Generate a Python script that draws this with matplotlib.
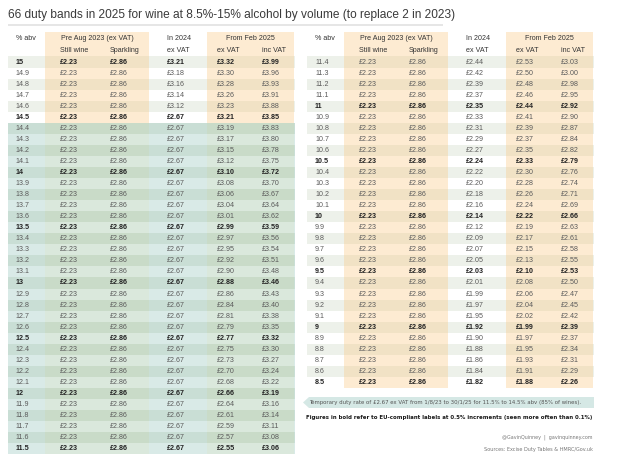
import matplotlib
matplotlib.use("Agg")
import matplotlib.pyplot as plt
from matplotlib import font_manager
from matplotlib.font_manager import FontProperties
from matplotlib.patches import Rectangle, Polygon

# % abv bands, left table then right table
abv_left = ["15", "14.9", "14.8", "14.7", "14.6", "14.5", "14.4", "14.3", "14.2", "14.1",
            "14", "13.9", "13.8", "13.7", "13.6", "13.5", "13.4", "13.3", "13.2", "13.1",
            "13", "12.9", "12.8", "12.7", "12.6", "12.5", "12.4", "12.3", "12.2", "12.1",
            "12", "11.9", "11.8", "11.7", "11.6", "11.5"]
abv_right = ["11.4", "11.3", "11.2", "11.1", "11", "10.9", "10.8", "10.7", "10.6", "10.5",
             "10.4", "10.3", "10.2", "10.1", "10", "9.9", "9.8", "9.7", "9.6", "9.5",
             "9.4", "9.3", "9.2", "9.1", "9", "8.9", "8.8", "8.7", "8.6", "8.5"]

# pre Aug 2023 rates were flat for every band
still_left = [2.23] * len(abv_left)
still_right = [2.23] * len(abv_right)
sparkling_left = [2.86] * len(abv_left)
sparkling_right = [2.86] * len(abv_right)

in2024_left = [3.21, 3.18, 3.16, 3.14, 3.12, 2.67, 2.67, 2.67, 2.67, 2.67,
               2.67, 2.67, 2.67, 2.67, 2.67, 2.67, 2.67, 2.67, 2.67, 2.67,
               2.67, 2.67, 2.67, 2.67, 2.67, 2.67, 2.67, 2.67, 2.67, 2.67,
               2.67, 2.67, 2.67, 2.67, 2.67, 2.67]
in2024_right = [2.44, 2.42, 2.39, 2.37, 2.35, 2.33, 2.31, 2.29, 2.27, 2.24,
                2.22, 2.20, 2.18, 2.16, 2.14, 2.12, 2.09, 2.07, 2.05, 2.03,
                2.01, 1.99, 1.97, 1.95, 1.92, 1.90, 1.88, 1.86, 1.84, 1.82]

feb_ex_left = [3.32, 3.30, 3.28, 3.26, 3.23, 3.21, 3.19, 3.17, 3.15, 3.12,
               3.10, 3.08, 3.06, 3.04, 3.01, 2.99, 2.97, 2.95, 2.92, 2.90,
               2.88, 2.86, 2.84, 2.81, 2.79, 2.77, 2.75, 2.73, 2.70, 2.68,
               2.66, 2.64, 2.61, 2.59, 2.57, 2.55]
feb_ex_right = [2.53, 2.50, 2.48, 2.46, 2.44, 2.41, 2.39, 2.37, 2.35, 2.33,
                2.30, 2.28, 2.26, 2.24, 2.22, 2.19, 2.17, 2.15, 2.13, 2.10,
                2.08, 2.06, 2.04, 2.02, 1.99, 1.97, 1.95, 1.93, 1.91, 1.88]

feb_inc_left = [3.99, 3.96, 3.93, 3.91, 3.88, 3.85, 3.83, 3.80, 3.78, 3.75,
                3.72, 3.70, 3.67, 3.64, 3.62, 3.59, 3.56, 3.54, 3.51, 3.48,
                3.46, 3.43, 3.40, 3.38, 3.35, 3.32, 3.30, 3.27, 3.24, 3.22,
                3.19, 3.16, 3.14, 3.11, 3.08, 3.06]
feb_inc_right = [3.03, 3.00, 2.98, 2.95, 2.92, 2.90, 2.87, 2.84, 2.82, 2.79,
                 2.76, 2.74, 2.71, 2.69, 2.66, 2.63, 2.61, 2.58, 2.55, 2.53,
                 2.50, 2.47, 2.45, 2.42, 2.39, 2.37, 2.34, 2.31, 2.29, 2.26]

# bands covered by the temporary flat rate (11.5% to 14.5%)
temp_lo, temp_hi = 11.5, 14.4

TITLE = "66 duty bands in 2025 for wine at 8.5%-15% alcohol by volume (to replace 2 in 2023)"
NOTE = "Temporary duty rate of £2.67 ex VAT from 1/8/23 to 30/1/25 for 11.5% to 14.5% abv (85% of wines)."
BOLD_NOTE = "Figures in bold refer to EU-compliant labels at 0.5% increments (seen more often than 0.1%)"
CREDIT = "@GavinQuinney  |  gavinquinney.com"
SOURCES = "Sources: Excise Duty Tables & HMRC/Gov.uk"


def has_font(name):
    try:
        font_manager.findfont(name, fallback_to_default=False)
        return True
    except Exception:
        return False


def narrow_font(bold=False):
    # look for any condensed face that is installed
    picks = []
    for f in font_manager.fontManager.ttflist:
        cond = ("Narrow" in f.name or "Condensed" in f.name
                or str(f.stretch) in ("condensed", "semi-condensed", "75", "87"))
        if not cond or f.style != "normal":
            continue
        w = f.weight if isinstance(f.weight, int) else (700 if "bold" in str(f.weight) else 400)
        if (w >= 600) != bold:
            continue
        rank = 0 if "Liberation" in f.name else 1
        picks.append((rank, f.fname))
    if picks:
        picks.sort()
        return FontProperties(fname=picks[0][1])
    return FontProperties(family=SANS, weight="bold" if bold else "normal")


SANS = "Liberation Sans" if has_font("Liberation Sans") else "DejaVu Sans"
NARROW = narrow_font(False)
NARROW_BOLD = narrow_font(True)

# colours
WHITE = "#ffffff"
STRIPE = "#edf1ea"
BEIGE = "#fdebd2"
BEIGE_STRIPE = "#f1e2c5"
GREEN_DARK = "#c9ded5"
GREEN_LIGHT = "#d9eae7"
GREEN_DARK_B = "#c9dbc8"
GREEN_LIGHT_B = "#dae8dc"

ROW0 = 62.0
ROW_H = 11.05
FS = 5.1

fig = plt.figure(figsize=(6.3, 4.63), dpi=100)
ax = fig.add_axes([0, 0, 1, 1])
ax.set_xlim(0, 630)
ax.set_ylim(463, 0)
ax.axis("off")
renderer = fig.canvas.get_renderer()


def fit_text(t, width_px):
    # shrink/grow a text so it spans the width it has in the reference
    w = t.get_window_extent(renderer).width
    if w > 0:
        t.set_fontsize(t.get_fontsize() * width_px / w)


def draw_table(x0, abv, still, spark, y24, fex, finc):
    left, right = x0, x0 + 287
    b1 = (x0 + 37, x0 + 141)
    b2 = (x0 + 199, x0 + 286)
    col_x = [x0 + 8, x0 + 52, x0 + 102, x0 + 159, x0 + 209, x0 + 254]
    top = 32

    for a, b in (b1, b2):
        ax.add_patch(Rectangle((a, top), b - a, ROW0 - ROW_H / 2 - top,
                               facecolor=BEIGE, edgecolor="none"))

    for i, lab in enumerate(abv):
        y = ROW0 + i * ROW_H
        v = float(lab)
        temp = temp_lo <= v <= temp_hi
        if temp:
            base = GREEN_DARK if i % 2 == 0 else GREEN_LIGHT
            band = GREEN_DARK_B if i % 2 == 0 else GREEN_LIGHT_B
        else:
            base = STRIPE if i % 2 == 0 else WHITE
            band = BEIGE_STRIPE if i % 2 == 0 else BEIGE
        ax.add_patch(Rectangle((left, y - ROW_H / 2), right - left, ROW_H,
                               facecolor=base, edgecolor="none"))
        for a, b in (b1, b2):
            ax.add_patch(Rectangle((a, y - ROW_H / 2), b - a, ROW_H,
                                   facecolor=band, edgecolor="none"))

        bold = (v * 2) == int(v * 2)
        kw = dict(fontsize=FS, va="center", ha="left", family=SANS,
                  fontweight="bold" if bold else "normal",
                  color="#222222" if bold else "#5a5a5a")
        vals = [lab] + [f"£{x:.2f}" for x in (still[i], spark[i], y24[i], fex[i], finc[i])]
        for cx, s in zip(col_x, vals):
            ax.text(cx, y, s, **kw)

    hkw = dict(fontsize=FS, va="center", family=SANS, color="#333333")
    ax.text(col_x[0], 39, "% abv", ha="left", **hkw)
    ax.text((b1[0] + b1[1]) / 2, 39, "Pre Aug 2023 (ex VAT)", ha="center", **hkw)
    ax.text(col_x[3], 39, "In 2024", ha="left", **hkw)
    ax.text((b2[0] + b2[1]) / 2, 39, "From Feb 2025", ha="center", **hkw)
    ax.text(col_x[1], 51, "Still wine", ha="left", **hkw)
    ax.text(col_x[2], 51, "Sparkling", ha="left", **hkw)
    ax.text(col_x[3], 51, "ex VAT", ha="left", **hkw)
    ax.text(col_x[4], 51, "ex VAT", ha="left", **hkw)
    ax.text(col_x[5], 51, "inc VAT", ha="left", **hkw)


draw_table(8, abv_left, still_left, sparkling_left, in2024_left, feb_ex_left, feb_inc_left)
draw_table(307, abv_right, still_right, sparkling_right, in2024_right, feb_ex_right, feb_inc_right)

# title and rule
t = ax.text(8, 15, TITLE, fontsize=8.5, family=SANS, color="#3a3a3a", va="center", ha="left")
fit_text(t, 444)
ax.plot([8, 443], [25, 25], color="#e2e2e2", lw=1.2, solid_capstyle="butt")

# note box with a pointed left end
ax.add_patch(Polygon([(303, 402.5), (309, 397), (594, 397), (594, 408), (309, 408)],
                     closed=True, facecolor="#d5e8e5", edgecolor="none"))
t = ax.text(309, 402.5, NOTE, fontsize=4.5, fontproperties=NARROW, color="#555555",
            va="center", ha="left")
t.set_fontsize(4.5)
fit_text(t, 273)
t = ax.text(306, 417, BOLD_NOTE, fontproperties=NARROW_BOLD, color="#1a1a1a",
            va="center", ha="left")
t.set_fontsize(5.5)
fit_text(t, 282)

t = ax.text(593, 437, CREDIT, fontproperties=NARROW, color="#777777", va="center", ha="right")
t.set_fontsize(4.8)
fit_text(t, 91)
t = ax.text(593, 450, SOURCES, fontproperties=NARROW, color="#777777", va="center", ha="right")
t.set_fontsize(4.8)
fit_text(t, 108)

fig.savefig("out.png", dpi=100, facecolor="white")
